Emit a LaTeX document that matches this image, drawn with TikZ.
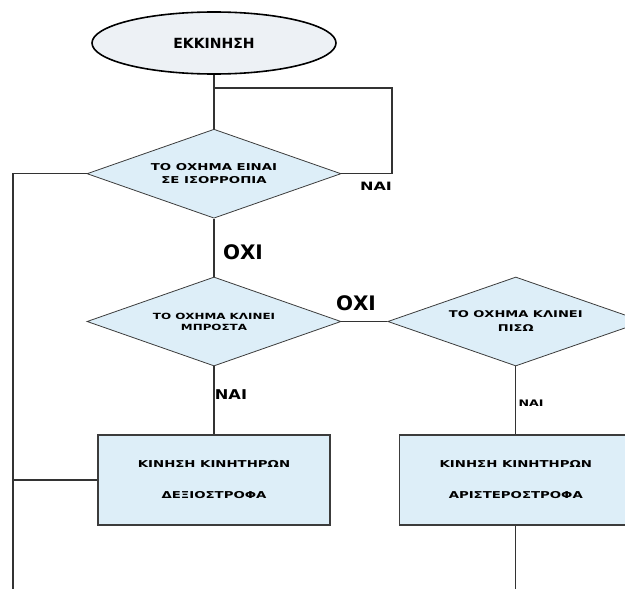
\documentclass[tikz,border=0pt]{standalone}
\usepackage{fontspec}
\setmainfont{DejaVu Sans}
\newfontfamily\widefont[FakeStretch=1.4]{DejaVu Sans}
\newfontfamily\semiwidefont[FakeStretch=1.2]{DejaVu Sans}
\usetikzlibrary{shapes.geometric, positioning}
\definecolor{stepblue}{HTML}{DDEEF8}
\definecolor{startgrey}{HTML}{EDF1F5}
\definecolor{outlinegrey}{HTML}{3C3C3C}
\definecolor{linkgrey}{HTML}{333333}

\begin{document}
\begin{tikzpicture}[x=1pt, y=-1pt,
    startnode/.style={ellipse, draw=black, line width=1.6pt, fill=startgrey,
      minimum width=244pt, minimum height=62pt, inner sep=0pt,
      font=\bfseries\fontsize{14}{16}\selectfont},
    decision/.style={diamond, aspect=2.85, draw=outlinegrey, line width=0.8pt, fill=stepblue,
      minimum width=254pt, minimum height=89pt, inner sep=0pt, align=center},
    action/.style={rectangle, draw=outlinegrey, line width=1.2pt, fill=stepblue,
      minimum width=232pt, minimum height=90pt, inner sep=0pt, align=center,
      font=\widefont\bfseries\fontsize{9.5}{31}\selectfont},
    link/.style={draw=linkgrey, line width=1.1pt},
    bigtag/.style={font=\bfseries\fontsize{20}{22}\selectfont, inner sep=0pt}]

    % canvas
    \clip (0,0) rectangle (625,589);

    % start and the balance test
    \node (start) [startnode] at (214,43) {ΕΚΚΙΝΗΣΗ};
    \node (balance) [decision, below=54pt of start,
      font=\widefont\bfseries\fontsize{9.5}{13}\selectfont] {ΤΟ ΟΧΗΜΑ ΕΙΝΑΙ\\ΣΕ ΙΣΟΡΡΟΠΙΑ};

    % tilt tests
    \node (front) [decision, below=58pt of balance,
      font=\widefont\bfseries\fontsize{8.5}{11}\selectfont] {ΤΟ ΟΧΗΜΑ ΚΛΙΝΕΙ\\ΜΠΡΟΣΤΑ};
    \node (back) [decision, right=46pt of front, minimum width=256pt,
      font=\widefont\bfseries\fontsize{9.3}{14}\selectfont] {ΤΟ ΟΧΗΜΑ ΚΛΙΝΕΙ\\ΠΙΣΩ};

    % motor actions
    \node (cw) [action, below=68pt of front] {ΚΙΝΗΣΗ ΚΙΝΗΤΗΡΩΝ\\ΔΕΞΙΟΣΤΡΟΦΑ};
    \node (ccw) [action, below=68pt of back] {ΚΙΝΗΣΗ ΚΙΝΗΤΗΡΩΝ\\ΑΡΙΣΤΕΡΟΣΤΡΟΦΑ};

    \coordinate (loopcorner) at (392,88);
    \coordinate (rail) at (13,589);

    % connectors
    \draw [link] (start.south) -- (balance.north);
    \draw [link] (start.south |- loopcorner) -- (loopcorner) |- (balance.east);
    \draw [link] (balance.west) -- (balance.west -| rail) -- (rail);
    \draw [link] (cw.west) -- (cw.west -| rail);
    \draw [link] (balance.south) -- (front.north);
    \draw [link] (front.east) -- (back.west);
    \draw [link] (front.south) -- (cw.north);
    \draw [link] (back.south) -- (ccw.north);
    \draw [link] (ccw.south) -- (ccw.south |- rail);

    % branch labels
    \node (yesloop) [font=\widefont\bfseries\fontsize{11.5}{13}\selectfont, inner sep=0pt] at (376,186) {ΝΑΙ};
    \node (nodown) [bigtag] at (243,252) {ΟΧΙ};
    \node (noside) [bigtag] at (356,303) {ΟΧΙ};
    \node (yesfront) [font=\semiwidefont\bfseries\fontsize{13.5}{15}\selectfont, inner sep=0pt] at (231,395) {ΝΑΙ};
    \node (yesback) [font=\widefont\bfseries\fontsize{9}{11}\selectfont, inner sep=0pt] at (531,403) {ΝΑΙ};
\end{tikzpicture}
\end{document}
